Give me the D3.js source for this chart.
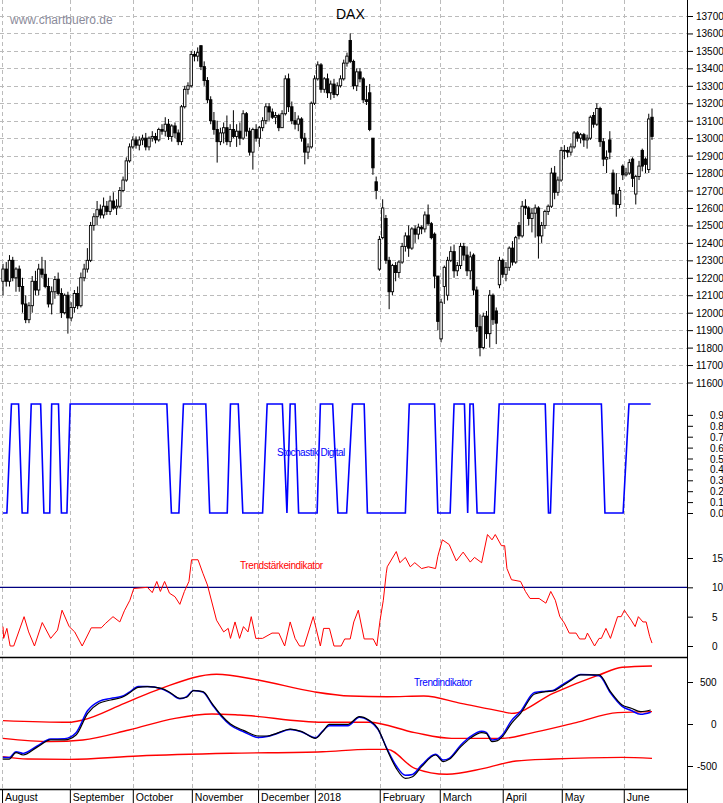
<!DOCTYPE html>
<html><head><meta charset="utf-8">
<script src="https://cdn.jsdelivr.net/npm/d3@7"></script>
<style>body{margin:0;background:#fff}svg{display:block}text{font-family:"Liberation Sans",Arial,sans-serif}</style>
</head><body><div id="c"></div>
<script>
// ---- DATA ----
const candles = [
[12180,12280,12100,12250],[12250,12290,12150,12180],[12180,12330,12150,12300],[12300,12320,12180,12200],[12200,12260,12120,12250],
[12250,12270,12120,12150],[12150,12200,12000,12050],[12050,12100,11940,11960],[11960,12060,11940,12040],[12040,12210,12000,12180],
[12180,12240,12100,12130],[12130,12280,12100,12250],[12250,12320,12200,12220],[12220,12300,12140,12150],[12150,12200,12030,12050],
[12050,12150,11990,12120],[12120,12210,12080,12190],[12190,12230,12100,12110],[12110,12140,11970,12000],[12000,12110,11990,12100],
[12100,12120,11880,11970],[11970,12060,11950,12030],[12030,12130,12000,12110],[12110,12150,12020,12040],[12040,12230,12030,12200],
[12200,12280,12180,12250],[12250,12370,12230,12300],[12300,12520,12290,12500],[12500,12570,12470,12550],[12550,12640,12500,12590],
[12590,12620,12540,12560],[12560,12660,12540,12610],[12610,12640,12560,12580],[12580,12670,12560,12640],[12640,12690,12590,12600],
[12600,12650,12560,12610],[12610,12720,12600,12700],[12700,12780,12690,12760],[12760,12890,12750,12870],[12870,12970,12860,12950],
[12950,13010,12940,12990],[12990,13010,12940,12960],[12960,13010,12930,12990],[12990,13020,12960,13000],[13000,13030,12930,12950],
[12950,13010,12930,13000],[13000,13040,12980,13010],[13010,13030,12970,12990],[12990,13060,12980,13050],[13050,13080,13020,13040],
[13040,13120,13010,13080],[13080,13110,12990,13010],[13010,13080,12980,13070],[13070,13090,13000,13030],[13030,13050,12960,12980],
[12980,13190,12960,13180],[13180,13300,13170,13280],[13280,13320,13250,13300],[13300,13500,13290,13480],[13480,13500,13440,13470],
[13470,13520,13440,13490],[13530,13530,13390,13410],[13410,13440,13300,13330],[13330,13350,13200,13220],[13220,13240,13080,13100],
[13100,13150,13020,13050],[13050,13100,12860,12980],[12980,13060,12960,13030],[13030,13090,12970,13060],[13060,13130,12960,12980],
[12980,13080,12950,13050],[13050,13160,13000,13010],[13010,13080,12950,13040],[13040,13090,12960,13000],[13000,13160,12990,13140],
[13140,13150,13010,13040],[13040,13060,12900,12920],[12920,13060,12820,13050],[13050,13080,12980,13000],[13000,13070,12950,13060],
[13060,13120,13040,13100],[13100,13200,13080,13180],[13180,13200,13100,13150],[13150,13170,13110,13120],[13120,13150,13080,13130],
[13130,13140,13040,13060],[13060,13160,13060,13140],[13140,13360,13130,13340],[13340,13370,13150,13180],[13180,13210,13080,13100],
[13100,13150,13050,13080],[13080,13130,13040,13110],[13110,13120,12980,13000],[13000,13030,12850,12920],[12920,12970,12880,12950],
[12950,13210,12940,13200],[13200,13360,13190,13340],[13340,13440,13330,13420],[13420,13430,13260,13280],[13280,13350,13260,13340],
[13340,13370,13230,13260],[13260,13330,13220,13310],[13310,13340,13230,13250],[13250,13320,13240,13300],[13300,13360,13290,13340],
[13340,13450,13330,13430],[13430,13490,13410,13470],[13560,13600,13430,13440],[13440,13450,13280,13300],[13300,13400,13270,13380],
[13380,13400,13320,13340],[13340,13350,13200,13220],[13220,13300,13190,13210],[13260,13310,13040,13050],[13000,13000,12790,12830],
[12750,12780,12650,12700],[12250,12440,12240,12420],[12430,12650,12420,12600],[12540,12560,12280,12300],[12300,12320,12020,12120],
[12120,12280,12100,12270],[12270,12290,12180,12230],[12230,12300,12200,12290],[12290,12400,12280,12380],[12380,12460,12350,12440],
[12440,12500,12320,12370],[12370,12490,12360,12480],[12480,12500,12400,12450],[12450,12510,12420,12490],[12490,12500,12450,12480],
[12480,12580,12460,12560],[12560,12620,12500,12510],[12510,12520,12420,12430],[12450,12460,12140,12210],[12210,12210,11900,11950],
[11850,12080,11830,12060],[12150,12270,12050,12260],[12100,12320,12070,12300],[12300,12380,12290,12350],[12350,12390,12200,12240],
[12240,12290,12210,12270],[12270,12400,12250,12380],[12380,12400,12300,12330],[12330,12380,12210,12240],[12240,12350,12190,12320],
[12330,12340,12100,12130],[12130,12150,11890,11920],[11920,11990,11750,11800],[11800,12000,11790,11980],[11980,12010,11850,11880],
[11880,12130,11800,12100],[12100,12110,11930,11960],[12010,12030,11820,11940],[12160,12320,12140,12300],[12300,12310,12200,12220],
[12220,12290,12180,12260],[12260,12380,12240,12370],[12370,12410,12270,12290],[12290,12440,12280,12430],[12500,12520,12420,12440],
[12440,12640,12430,12610],[12610,12650,12560,12600],[12600,12610,12500,12540],[12540,12600,12460,12570],[12570,12620,12430,12600],
[12600,12610,12310,12440],[12440,12520,12400,12500],[12500,12590,12480,12580],[12580,12620,12560,12610],[12610,12830,12600,12800],
[12800,12840,12650,12690],[12690,12780,12670,12760],[12760,12950,12750,12930],[12930,12960,12880,12930],[12930,12950,12890,12920],
[12920,12970,12900,12950],[12950,13040,12940,13030],[13030,13040,12980,13000],[13000,13030,12970,13020],[13020,13030,12950,12990],
[12990,13020,12940,13000],[13000,13130,12990,13120],[13130,13150,13060,13080],[13080,13200,13070,13170],[13170,13180,12950,12980],
[12980,13000,12840,12880],[12880,12930,12800,12890],[12990,13040,12880,12920],[12800,12820,12620,12680],[12680,12800,12550,12620],
[12620,12720,12600,12700],[12840,12850,12760,12790],[12790,12830,12780,12800],[12800,12880,12790,12860],[12880,12890,12720,12770],
[12680,12790,12620,12780],[12780,12870,12760,12840],[12930,12940,12810,12840],[12880,12890,12800,12850],[12820,13140,12800,13110],
[13120,13170,12990,13010]];
const monthLabels = ["August","September","October","November","December","2018","February","March","April","May","June"];
const monthTicks  = [-0.3,20.6,40,58.2,78.6,96.1,116.1,134.6,154,172.2,191.3];
const priceTicks = [11600,11700,11800,11900,12000,12100,12200,12300,12400,12500,12600,12700,12800,12900,13000,13100,13200,13300,13400,13500,13600,13700];
const stochTicks = [0,0.1,0.2,0.3,0.4,0.5,0.6,0.7,0.8,0.9];
const tsiTicks = [0,5,10,15];
const trendTicks = [-500,0,500];
// Stochastik Digital [day, value]
const stoch = [[0,0],[1.2,0],[2.6,1],[4.8,1],[5.9,0],[7.6,0],[8.7,1],[11.6,1],[12.6,0],[14.4,0],[15,1],[17.1,1],[18,0],[19.7,0],[20.7,1],
[50.5,1],[51.9,0],[54.2,0],[55.6,1],[62.5,1],[63.7,0],[69.1,0],[70.1,1],[72.5,1],[73.9,0],[80,0],[81.4,1],[86.1,1],[87.5,0],[88.5,1],[90,1],[91.1,0],
[96.8,0],[97.8,1],[101.6,1],[103.2,0],[105.9,0],[107.7,1],[111.3,1],[112.3,0],[124,0],[125.2,1],[133,1],[134,0],[137.8,0],[139,1],
[142.2,1],[143.2,0],[143.9,1],[144.9,1],[146.1,0],[151.4,0],[152.9,1],[167.1,1],[168.1,0],[168.7,0],[169.8,1],[184.4,1],[185.5,0],
[191.1,0],[192.9,1],[199.6,1]];
// Trendstärkeindikator [day, value]
const tsi = [[0,3.3],[0.2,1.3],[1.2,3],[2.2,0],[3.3,0],[6.5,5],[7.9,2.4],[9.7,0],[12.1,4],[14.7,1.3],[16.8,2.7],[18.2,6.1],[20.4,3.3],[22.1,2.4],
[24.4,0],[27.2,3.1],[30.3,3.1],[31.5,3.8],[33.9,5],[36,4.1],[37.4,6],[39.1,7.8],[40.3,9.8],[44.5,10],[46,9.1],[47.4,11],[48.5,9.3],[49.8,11],
[51.3,9],[53,8.4],[54.5,7.1],[55.9,9.3],[57.3,11],[58.1,14.7],[60.1,14.7],[61.6,12.4],[63,10.4],[65.8,4.4],[68,2.4],[69.4,3],[70.1,1.3],
[71.5,4.1],[72.9,1.3],[74.1,3.3],[75.5,2.4],[76.5,5],[77.9,1.3],[80,1.3],[82.9,2.2],[85,2.2],[86.8,0],[88.5,4.1],[90,1.3],[91.4,0],[92.8,0],
[95.6,5],[97.8,0],[98.8,3],[100.6,3],[102,0],[104.2,0],[105.3,1.2],[107,1.2],[108.1,4.1],[109.5,6.1],[111.3,1.2],[114.1,1.2],[115.2,0],
[116.2,4.4],[117.2,7.8],[118.1,12.4],[118.4,13.5],[121.2,16.1],[122.3,14.2],[124,15.1],[125.5,13.5],[126.9,14.2],[129,13.2],[131.1,13.5],
[133.3,13.2],[134,15.3],[135.4,18.1],[137.5,17.3],[139.7,14.5],[141.8,16],[144,14.3],[145.3,15.1],[147.5,14.2],[149.3,19],[150.7,18.1],
[151.7,19],[153.6,17.1],[154.6,17.1],[155.3,13.2],[156.7,11.3],[159.5,11],[161,9.3],[162.4,8.1],[165.2,8.1],[167.3,7.3],[168.8,9.3],
[170.2,7.8],[171.6,5],[173,3.9],[174.5,2.2],[176.6,2.2],[177.7,1.2],[179.4,1.2],[180.1,2.2],[182.3,0],[183.7,1.3],[184.4,1.3],[185.8,3],
[187.2,1.3],[189.4,5],[190.5,5],[191.5,6.1],[192.2,5.5],[193.6,4.4],[194.8,3.3],[195.8,5],[197.2,4.1],[198.2,4.1],[199.3,1.6],[200,0.5]];
// Trendindikator [day, value]
const trendLine = [[0,-417],[1.9,-417],[4,-341],[6.2,-369],[10.4,-278],[14.7,-190],[19,-190],[22.5,-131],[26.1,127],[29.6,246],[33.2,286],
[36.7,318],[38.8,365],[41.7,437],[44.5,445],[48.8,425],[51.6,373],[54.5,306],[56.6,318],[58.7,397],[61.6,385],[64.4,246],[67.2,107],
[70.1,0],[74.3,-79],[78.6,-143],[81.4,-143],[84.3,-111],[88.5,-60],[92.1,-91],[96.3,-171],[98.5,-91],[100.6,-4],[106.3,-4],[109.8,87],
[112.7,48],[115.5,-52],[118.4,-310],[121.2,-528],[124,-647],[126.2,-627],[129,-508],[133.3,-369],[135.7,-449],[137.5,-421],[141.1,-270],
[144,-171],[147.5,-103],[148.9,-111],[150.7,-210],[152.4,-198],[153.9,-151],[156.7,8],[159.5,127],[163.8,357],[167.3,385],[169.5,393],
[172.3,452],[175.2,524],[178,584],[183.7,584],[187.2,385],[190.8,226],[193.6,187],[196.5,147],[199.6,167]];
const signalLine = [[0,-400],[1.9,-400],[4,-330],[6.2,-350],[10.4,-265],[14.7,-180],[19,-175],[22.5,-105],[26.1,160],[29.6,270],[33.2,305],
[36.7,330],[38.8,375],[41.7,445],[44.5,445],[48.8,420],[51.6,365],[54.5,300],[56.6,325],[58.7,400],[61.6,380],[64.4,235],[67.2,95],
[70.1,-15],[74.3,-95],[78.6,-160],[81.4,-150],[84.3,-115],[88.5,-65],[92.1,-95],[96.3,-165],[98.5,-85],[100.6,-20],[106.3,-20],[109.8,80],
[112.7,40],[115.5,-60],[118.4,-300],[121.2,-500],[124,-610],[126.2,-600],[129,-490],[133.3,-360],[135.7,-430],[137.5,-410],[141.1,-250],
[144,-150],[147.5,-85],[148.9,-100],[150.7,-190],[152.4,-180],[153.9,-130],[156.7,40],[159.5,150],[163.8,375],[167.3,390],[169.5,400],
[172.3,465],[175.2,535],[178,590],[183.7,575],[187.2,370],[190.8,210],[193.6,160],[196.5,115],[199.6,140]];
const upperBand = [[0,40],[20.4,20],[24.6,48],[37.4,246],[48.8,425],[65.8,592],[78.6,524],[95.6,385],[107,333],[118.4,325],[129.7,333],
[141.1,246],[153.9,147],[156.7,127],[169.5,365],[183.7,584],[190.8,675],[200,691]];
const midBand = [[0,-171],[14.7,-210],[24.6,-190],[38.8,-71],[53,67],[64.4,119],[72.9,107],[98.5,20],[112.7,20],[126.9,-103],[138.2,-171],
[149.6,-171],[153.9,-171],[162.4,-111],[176.6,16],[189.4,135],[200,147]];
const lowerBand = [[0,-389],[7.6,-417],[20.4,-421],[41.7,-381],[70.1,-349],[98.5,-330],[112.7,-302],[118.4,-302],[126.9,-528],[136.8,-599],
[148.2,-528],[158.1,-441],[169.5,-417],[190.8,-397],[200,-409]];

// ---- DRAW ----
const W=723,H=803, R=687;
const svg=d3.select("#c").append("svg").attr("width",W).attr("height",H);
const x=d3.scaleLinear().domain([0,200]).range([3,652]);
const yP=d3.scaleLinear().domain([11600,13700]).range([382.5,16]);
const yS=d3.scaleLinear().domain([0,1]).range([513,404]);
const yT=d3.scaleLinear().domain([0,15]).range([646,558]);
const yI=d3.scaleLinear().domain([-500,500]).range([766,682]);

// grids
const grid=svg.append("g").attr("stroke","#bbb").attr("stroke-dasharray","4,3").attr("stroke-width",1);
monthTicks.forEach(t=>grid.append("line").attr("x1",Math.round(x(t))+0.5).attr("x2",Math.round(x(t))+0.5).attr("y1",0).attr("y2",789));
priceTicks.forEach(t=>grid.append("line").attr("x1",0).attr("x2",R).attr("y1",Math.round(yP(t))+0.5).attr("y2",Math.round(yP(t))+0.5));

// candles
const cw=2.4;
const cg=svg.append("g");
candles.forEach((d,i)=>{
  const [o,h,l,c]=d, cx=x(i);
  cg.append("line").attr("x1",cx).attr("x2",cx).attr("y1",yP(h)).attr("y2",yP(l)).attr("stroke","#000").attr("stroke-width",1);
  const top=yP(Math.max(o,c)), bot=yP(Math.min(o,c));
  cg.append("rect").attr("x",cx-cw/2).attr("y",top).attr("width",cw).attr("height",Math.max(0.8,bot-top))
    .attr("fill",c>=o?"#fff":"#000").attr("stroke","#000").attr("stroke-width",0.9);
});

const ln=d3.line().x(d=>x(d[0]));
svg.append("path").datum(stoch).attr("d",ln.y(d=>yS(d[1]))).attr("fill","none").attr("stroke","#0000ff").attr("stroke-width",1.6);
svg.append("line").attr("x1",0).attr("x2",R).attr("y1",yT(10)).attr("y2",yT(10)).attr("stroke","#000080").attr("stroke-width",1.2);
svg.append("path").datum(tsi).attr("d",d3.line().x(d=>x(d[0])).y(d=>yT(d[1]))).attr("fill","none").attr("stroke","#ff0000").attr("stroke-width",1);
const li=d3.line().x(d=>x(d[0])).y(d=>yI(d[1])).curve(d3.curveMonotoneX);
[upperBand,midBand,lowerBand].forEach(b=>svg.append("path").datum(b).attr("d",li).attr("fill","none").attr("stroke","#ff0000").attr("stroke-width",1.4));
svg.append("path").datum(signalLine).attr("d",li).attr("fill","none").attr("stroke","#0000ff").attr("stroke-width",1.5);
svg.append("path").datum(trendLine).attr("d",li).attr("fill","none").attr("stroke","#000").attr("stroke-width",1.2);

// separators and axes
svg.append("line").attr("x1",0).attr("x2",R).attr("y1",657.5).attr("y2",657.5).attr("stroke","#000").attr("stroke-width",1.5);
svg.append("line").attr("x1",0).attr("x2",R).attr("y1",789.5).attr("y2",789.5).attr("stroke","#000").attr("stroke-width",1.5);
svg.append("line").attr("x1",R+0.5).attr("x2",R+0.5).attr("y1",0).attr("y2",803).attr("stroke","#000").attr("stroke-width",1);

function rAxis(scale,ticks,fmt,minor,lx){
  const g=svg.append("g").attr("transform",`translate(${R},0)`);
  g.call(d3.axisRight(scale).tickValues(minor).tickSize(3).tickFormat("")).call(a=>a.select(".domain").remove());
  g.call(d3.axisRight(scale).tickValues(ticks).tickSize(6).tickFormat("")).call(a=>a.select(".domain").remove());
  g.selectAll("text.lab").data(ticks).join("text").attr("class","lab").attr("x",lx).attr("y",d=>scale(d)+4)
    .attr("font-size",10).attr("fill","#000").text(fmt);
}
const half=(arr,st)=>arr.flatMap(v=>[v+st]);
rAxis(yP,priceTicks,d=>d,half(priceTicks.concat([11500]),50),9);
rAxis(yS,stochTicks,d=>d.toFixed(1),half(stochTicks,0.05),23);
rAxis(yT,tsiTicks,d=>d,[1,2,3,4,6,7,8,9,11,12,13,14,16,17],25);
rAxis(yI,trendTicks,d=>d,[-750,-250,250,750],d=>0);
svg.selectAll("text.lab").filter(function(){return this.parentNode && trendTicks.includes(+this.textContent) && +this.getAttribute("y")>670;})
  .attr("x",d=>d<0?10:(d===0?24:13));

// bottom axis
const bx=svg.append("g").attr("transform","translate(0,789)");
const weekTicks=d3.range(0,201,5).map(v=>v-0.3);
bx.call(d3.axisBottom(x).tickValues(weekTicks).tickSize(4).tickFormat("")).call(a=>a.select(".domain").remove());
bx.call(d3.axisBottom(x).tickValues(monthTicks).tickSize(14).tickFormat("")).call(a=>a.select(".domain").remove());
monthLabels.forEach((m,i)=>svg.append("text").attr("x",x(monthTicks[i])+3).attr("y",801).attr("font-size",10.5).text(m));

// titles
svg.append("text").attr("x",10).attr("y",24).attr("font-size",12).attr("fill","#8a8a9a").text("www.chartbuero.de");
svg.append("text").attr("x",336).attr("y",19).attr("font-size",14).text("DAX");
svg.append("text").attr("x",277).attr("y",456).attr("font-size",10).attr("fill","#0000ff").attr("letter-spacing",-0.5).text("Stochastik Digital");
svg.append("text").attr("x",240).attr("y",569).attr("font-size",10).attr("fill","#ff0000").attr("letter-spacing",-0.4).text("Trendstärkeindikator");
svg.append("text").attr("x",414).attr("y",686).attr("font-size",10).attr("fill","#0000ff").attr("letter-spacing",-0.4).text("Trendindikator");
</script></body></html>
